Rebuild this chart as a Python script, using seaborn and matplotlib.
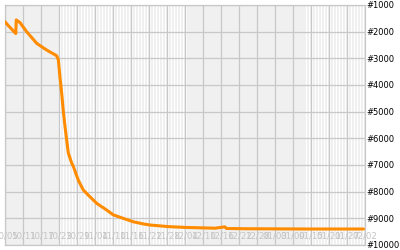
import matplotlib
matplotlib.use("Agg")
import matplotlib.pyplot as plt
import seaborn as sns
import pandas as pd
import numpy as np

# ---- data ----
days = [0, 1, 2, 3, 3.6, 3.75, 5, 7.2, 10.6, 13.9, 17.2, 17.8, 18.3, 18.9, 19.4, 20.0,
        21.1, 22.2, 22.8, 24.4, 26.1, 28.3, 30.6, 33.9, 36.1, 39.4, 42.8, 46.1,
        48.3, 54.4, 60, 70, 73.3, 73.8, 80, 90, 100, 110, 119.5]
ranks = [1630, 1760, 1880, 2000, 2070, 1560, 1660, 2000, 2440, 2690, 2900, 3060, 3690,
         4310, 4940, 5560, 6550, 6920, 7060, 7560, 7940, 8190, 8440, 8690, 8870,
         9000, 9130, 9210, 9250, 9310, 9340, 9370, 9320, 9380, 9390, 9395, 9400, 9400, 9400]
tick_days = list(range(0, 121, 6))
tick_labels = ["10/05", "10/11", "10/17", "10/23", "10/29", "11/04", "11/10", "11/16",
               "11/22", "11/28", "12/04", "12/10", "12/16", "12/22", "12/28", "01/03",
               "01/09", "01/15", "01/21", "01/27", "02/02"]
rank_ticks = list(range(1000, 10001, 1000))
rank_labels = ["#%d" % r for r in rank_ticks]

# ---- style ----
sns.set_style("white")
plt.rcParams["font.family"] = ["DejaVu Sans"]
grid_c = "#c8c8c8"
striped_ranges = [(18, 61), (100, 120)]

fig = plt.figure(figsize=(4, 2.5), dpi=100)
ax = fig.add_axes([5 / 400, 5 / 250, 360 / 400, 240 / 250])
ax.set_facecolor("#f0f0f0")

for a, b in striped_ranges:
    for d in np.arange(a, b, 1.0):
        ax.axvspan(d + 0.25, d + 0.75, color="white", lw=0, zorder=0)

df = pd.DataFrame({"day": days, "rank": ranks})
sns.lineplot(data=df, x="day", y="rank", ax=ax, color="#ff8c00", lw=2.2,
             sort=False, estimator=None, zorder=5)

ax.set_xlim(0, 120)
ax.set_ylim(10000, 1000)
ax.set_xticks(tick_days)
ax.set_xticklabels(tick_labels)
ax.set_yticks(rank_ticks)
ax.set_yticklabels(rank_labels)
ax.yaxis.tick_right()
ax.tick_params(axis="y", length=0, pad=1.2, labelsize=6, labelcolor="black")
ax.tick_params(axis="x", length=0, pad=-9.5, labelsize=6.2, labelcolor="#c4c4c4")
ax.grid(True, color=grid_c, lw=0.9, zorder=1)
ax.set_axisbelow(True)
for s in ax.spines.values():
    s.set_color(grid_c)
    s.set_linewidth(0.9)
ax.set_xlabel("")
ax.set_ylabel("")

fig.savefig("out.png", dpi=100)
